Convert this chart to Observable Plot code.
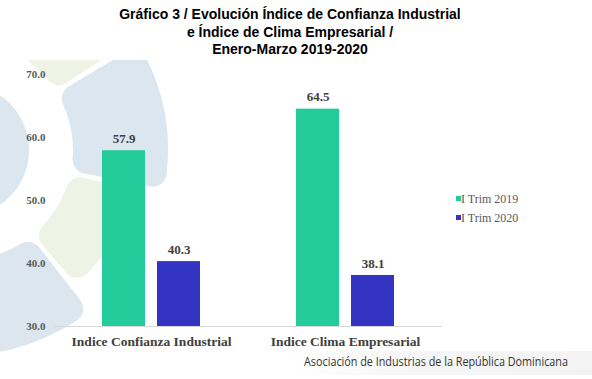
<!DOCTYPE html>
<html>
<head>
<meta charset="utf-8">
<script src="https://cdn.jsdelivr.net/npm/d3@7"></script>
<script src="https://cdn.jsdelivr.net/npm/@observablehq/plot@0.6"></script>
<style>
  html, body { margin: 0; padding: 0; background: #fff; }
  #wrap { position: relative; width: 592px; height: 379px; overflow: hidden; background: #fff; }
  #bg { position: absolute; left: 0; top: 0; }
  #title { position: absolute; left: 0; top: 6px; width: 580px; text-align: center;
    font: bold 14px/17.5px "Liberation Sans", Arial, sans-serif; color: #000; }
  #chart { position: absolute; left: 0; top: 0; }
  #legend { position: absolute; left: 456px; top: 191px; font: 12px "Liberation Serif", "Times New Roman", serif; color: #595959; }
  #legend .item { height: 19px; line-height: 16px; white-space: nowrap; }
  #legend .sw { display: inline-block; width: 5px; height: 5px; margin-right: 0px; vertical-align: 2px; }
  #footer { position: absolute; left: 290px; top: 351px; width: 302px; height: 24px;
    background: linear-gradient(to right, rgba(240,240,240,0), rgba(240,240,240,0.6) 40%, rgba(238,238,238,0.7)); }
  #footer span { position: absolute; left: 14px; top: 3px; white-space: nowrap; transform-origin: 0 0;
    font: 12.5px/16px "Open Sans", "Noto Sans", sans-serif; color: #333; }
</style>
</head>
<body>
<div id="wrap">
  <svg id="bg" width="592" height="379"></svg>
  <div id="chart"></div>
  <div id="title">Gráfico 3 / Evolución Índice de Confianza Industrial<br>e Índice de Clima Empresarial /<br>Enero-Marzo 2019-2020</div>
  <div id="legend"></div>
  <div id="footer"><span id="foottext">Asociación de Industrias de la República Dominicana</span></div>
</div>
<script>
const categories = ["Indice Confianza Industrial", "Indice Clima Empresarial"];
const series = ["I Trim 2019", "I Trim 2020"];
const values2019 = [57.9, 64.5];
const values2020 = [40.3, 38.1];
const yTicks = [30, 40, 50, 60, 70];
const colors = ["#24cb9b", "#3434c2"];

const data = categories.flatMap((c, i) => [
  {cat: c, serie: series[0], value: values2019[i]},
  {cat: c, serie: series[1], value: values2020[i]}
]);

// faint decorative gear watermark (background only)
(function () {
  const svg = d3.select("#bg");
  svg.append("clipPath").attr("id", "wm").append("rect").attr("x", 0).attr("y", 60).attr("width", 300).attr("height", 292);
  const outer = svg.append("g").attr("clip-path", "url(#wm)");
  const g = outer.append("g").attr("transform", "translate(-37,150)");
  const blue = "#dce6ee", beige = "#eff3e5";
  const deg = Math.PI / 180;
  const arc = d3.arc().cornerRadius(14);
  const sectors = [
    [-110, -60, blue, 110, 190],
    [-58, -33, beige, 110, 185],
    [-31, 11, blue, 110, 205],
    [13, 50, beige, 110, 175],
    [52, 100, blue, 110, 205]
  ];
  sectors.forEach(([a0, a1, c, r0, r1]) => {
    g.append("path").attr("fill", c)
      .attr("d", arc({innerRadius: r0, outerRadius: r1, startAngle: (a0 + 90) * deg, endAngle: (a1 + 90) * deg}));
  });
  g.append("circle").attr("r", 66).attr("fill", blue);
})();

const chart = Plot.plot({
  width: 592,
  height: 379,
  marginTop: 74,
  marginBottom: 53,
  marginLeft: 53,
  marginRight: 150,
  style: {background: "transparent", overflow: "visible"},
  fx: {domain: categories, padding: 0, label: null, axis: null},
  x: {domain: series, paddingInner: 0.214, paddingOuter: 0.844, axis: null},
  y: {domain: [30, 70], label: null, axis: null},
  color: {domain: series, range: colors},
  marks: [
    Plot.ruleY([30], {stroke: "#d9d9d9", strokeWidth: 1}),
    Plot.axisY({ticks: yTicks, tickFormat: d => d.toFixed(1), tickSize: 0, tickPadding: 9, label: null,
      fontFamily: "Liberation Serif, Times New Roman, serif", fontWeight: "bold", fontSize: 11, fill: "#595959"}),
    Plot.axisFx({anchor: "bottom", tickSize: 0, tickPadding: 10, label: null,
      fontFamily: "Liberation Serif, Times New Roman, serif", fontWeight: "bold", fontSize: 13.5, fill: "#404040"}),
    Plot.barY(data, {fx: "cat", x: "serie", y1: 30, y2: "value", fill: "serie"}),
    Plot.text(data, {fx: "cat", x: "serie", y: "value", text: d => d.value.toFixed(1), dy: -12,
      fontFamily: "Liberation Serif, Times New Roman, serif", fontWeight: "bold", fontSize: 13, fill: "#404040"})
  ]
});
document.getElementById("chart").appendChild(chart);

const legend = document.getElementById("legend");
series.forEach((s, i) => {
  const item = document.createElement("div");
  item.className = "item";
  item.innerHTML = `<span class="sw" style="background:${colors[i]}"></span>${s}`;
  legend.appendChild(item);
});

const ft = document.getElementById("foottext");
const w = ft.getBoundingClientRect().width;
if (w > 0) ft.style.transform = `scaleX(${264 / w})`;
</script>
</body>
</html>
